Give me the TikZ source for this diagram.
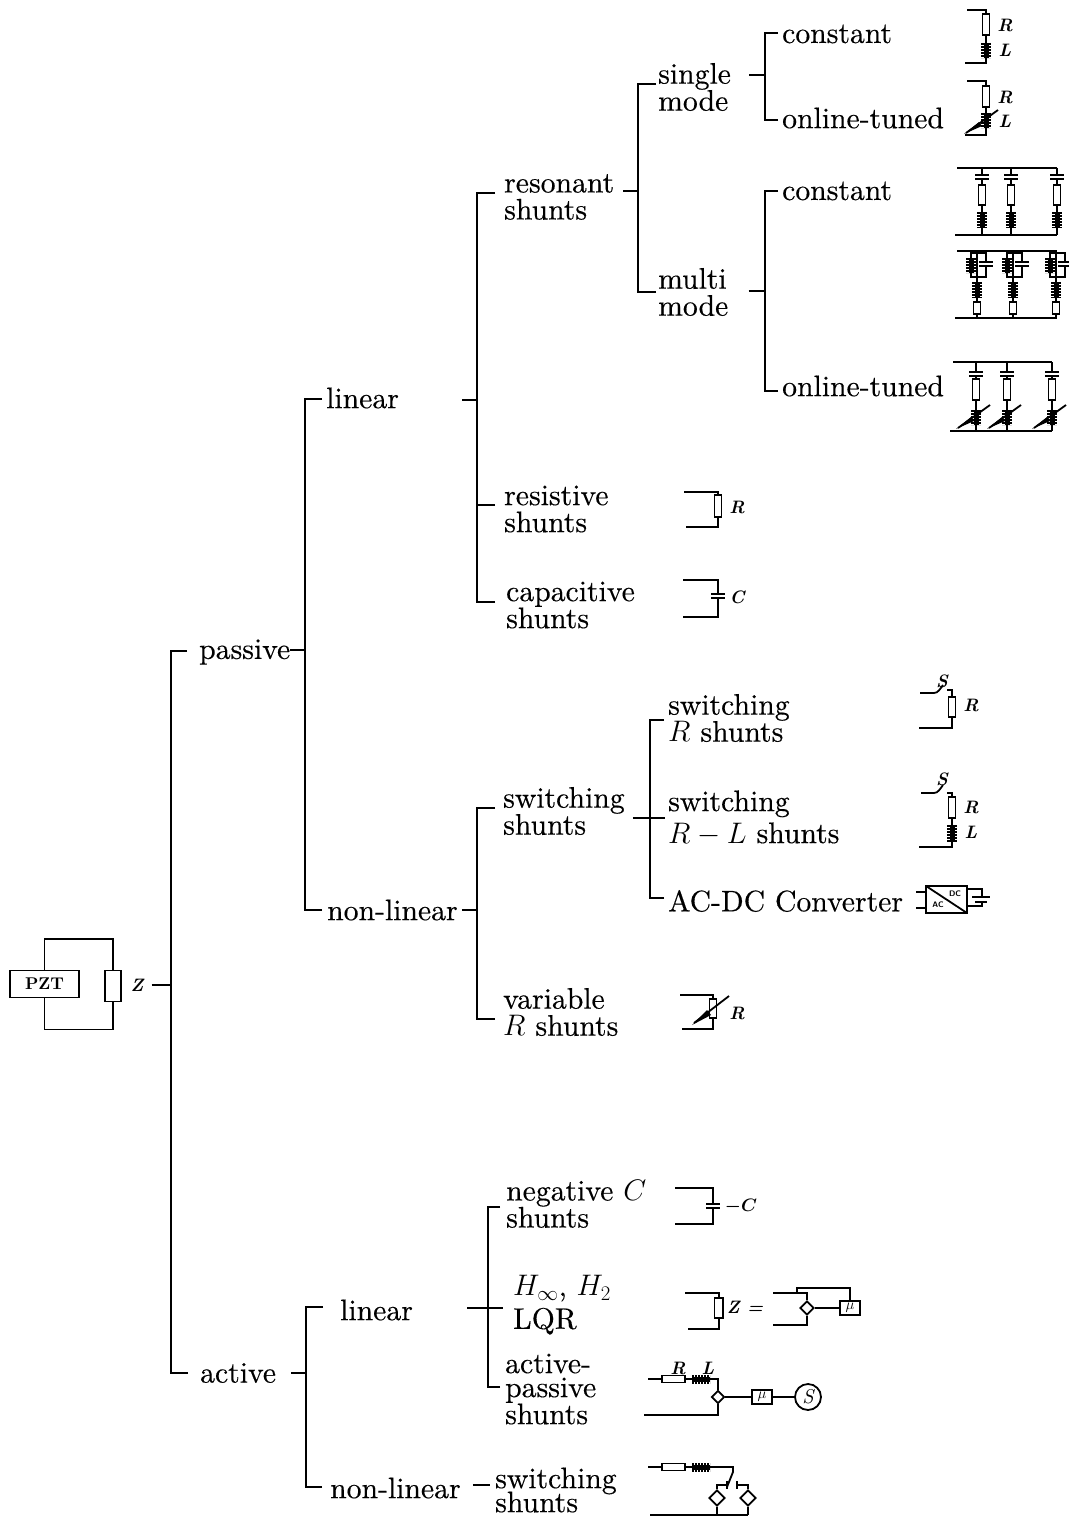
\documentclass[tikz,border=0pt]{standalone}
\usepackage{fix-cm}
\usepackage{amsmath}
\usepackage{fontspec}
\setmainfont{lmroman10-regular.otf}[BoldFont=lmroman10-bold.otf,ItalicFont=lmroman10-italic.otf,BoldItalicFont=lmroman10-bolditalic.otf]
\newfontfamily\treefont{lmroman10-regular.otf}[FakeBold=0.35]
\usetikzlibrary{shapes.geometric}

\tikzset{
  lbl/.style={font=\fontsize{29.7}{27}\selectfont\treefont,align=left,anchor=west,inner sep=0pt},
  sym/.style={font=\fontsize{18}{18}\selectfont\bfseries\itshape,inner sep=0pt},
  brk/.style={line width=2pt},
  wire/.style={line width=1.8pt},
}

\begin{document}
\begin{tikzpicture}[x=1pt,y=-1pt]
  \def\brtick#1#2#3#4{\draw[brk] ([shift={(#2,#3)}]#1) -| (#4);}
  \def\vres#1#2#3{\draw[wire,fill=white] (#1-3.5,#2) rectangle (#1+3.5,#3);}
  \def\hres#1#2#3{\draw[wire,fill=white] (#1,#3-3.5) rectangle (#2,#3+3.5);}
  \def\vind#1#2#3{\draw[line width=5pt] (#1,#2) -- (#1,#3);
    \draw[line width=10pt,dash pattern=on 2.2pt off 0.8pt] (#1,#2) -- (#1,#3);}
  \def\hind#1#2#3{\draw[line width=5pt] (#1,#3) -- (#2,#3);
    \draw[line width=9pt,dash pattern=on 2.2pt off 0.8pt] (#1,#3) -- (#2,#3);}
  \def\vcap#1#2{\fill[white] (#1-7,#2-2) rectangle (#1+7,#2+2);
    \draw[wire] (#1-7,#2-2) -- (#1+7,#2-2) (#1-7,#2+2) -- (#1+7,#2+2);}
  \def\tune#1#2{\draw[wire] (#1+14,#2-11) -- (#1-18,#2+12);
    \fill (#1-20,#2+13) -- (#1-5,#2+1) -- (#1-2,#2+5) -- cycle;}
  \useasboundingbox (0,0) rectangle (1068,1517);

% labels of the tree
\node[lbl] (passive) at (199,652) {passive};
\node[lbl] (active) at (200,1373) {active};
\node[lbl] (plin) at (326,398) {linear};
\node[lbl] (pnon) at (327,910) {non-linear};
\node[lbl] (alin) at (340,1310) {linear};
\node[lbl] (anon) at (330,1488) {non-linear};
\node[lbl] (reson) at (504,197) {resonant\\shunts};
\node[lbl] (resist) at (504,509) {resistive\\shunts};
\node[lbl] (capac) at (506,605) {capacitive\\shunts};
\node[lbl] (swit) at (503,811) {switching\\shunts};
\node[lbl] (varr) at (503,1012) {variable\\$R$ shunts};
\node[lbl] (single) at (658,87) {single\\mode};
\node[lbl] (multi) at (658,292) {multi\\mode};
\node[lbl] (constA) at (782,34) {constant};
\node[lbl] (onlineA) at (782,118) {online-tuned};
\node[lbl] (constB) at (782,191) {constant};
\node[lbl] (onlineB) at (782,386) {online-tuned};
\node[lbl] (swr) at (668,718) {switching\\$R$ shunts};
\node[lbl] (swrl) at (668,818) {switching\\[5pt]$R-L$ shunts};
\node[lbl] (acdc) at (668,901) {AC-DC Converter};
\node[lbl] (negc) at (506,1204) {negative $C$\\shunts};
\node[lbl] (hinf) at (513,1305) {$H_\infty$, $H_2$\\[6pt]LQR};
\node[lbl] (actpas) at (505,1389) {active-\\[-3pt]passive\\shunts};
\node[lbl] (swact) at (495,1490) {switching\\[-3pt]shunts};

% PZT with its shunt
\node[draw,line width=1.8pt,minimum width=69pt,minimum height=27pt,inner sep=0pt,
      font=\fontsize{17}{17}\selectfont\bfseries] (pzt) at (44.5,984) {PZT};
\node[draw,line width=1.8pt,minimum width=16pt,minimum height=31pt,inner sep=0pt] (zres) at (113,986) {};
\node[sym] (zlab) at (137,985) {Z};
\draw[wire] (pzt.north) -- ++(0,-31) -| (zres.north);
\draw[wire] (pzt.south) -- ++(0,31) -| (zres.south);

% brackets
\coordinate (jroot) at (171,985);
\coordinate (jpas) at (305,650);
\coordinate (jact) at (306,1373);
\coordinate (jlin) at (477,400);
\coordinate (jnon) at (477,910);
\coordinate (jres) at (638,191);
\coordinate (jsin) at (765,75);
\coordinate (jmul) at (765,291);
\coordinate (jsw) at (650,818);
\coordinate (jali) at (488,1308);

\draw[brk] ([xshift=8pt]zlab.east) -- (jroot);
\brtick{passive.west}{-12}{-1}{jroot}
\brtick{active.west}{-12}{0}{jroot}

\draw[brk] ([shift={(0,-2)}]passive.east) -- (jpas);
\brtick{plin.west}{-4}{1}{jpas}
\brtick{pnon.west}{-5}{0}{jpas}

\draw[brk] ([xshift=15pt]active.east) -- (jact);
\brtick{alin.west}{-17}{-3}{jact}
\brtick{anon.west}{-8}{-1}{jact}

\draw[brk] ([shift={(63,2)}]plin.east) -- (jlin);
\brtick{reson.west}{-9}{-4}{jlin}
\brtick{resist.west}{-9}{-4}{jlin}
\brtick{capac.west}{-11}{-3}{jlin}

\draw[brk] ([xshift=4pt]pnon.east) -- (jnon);
\brtick{swit.west}{-8}{-3}{jnon}
\brtick{varr.west}{-8}{7}{jnon}

\draw[brk] ([shift={(9,-6)}]reson.east) -- (jres);
\brtick{single.west}{-2}{-3}{jres}
\brtick{multi.west}{-2}{0}{jres}

\draw[brk] ([shift={(18,-12)}]single.east) -- (jsin);
\brtick{constA.west}{-4}{-1}{jsin}
\brtick{onlineA.west}{-4}{2}{jsin}

\draw[brk] ([shift={(20,-1)}]multi.east) -- (jmul);
\brtick{constB.west}{-4}{0}{jmul}
\brtick{onlineB.west}{-4}{5}{jmul}

\draw[brk] ([shift={(8,7)}]swit.east) -- ([xshift=-3pt]swrl.west);
\brtick{swr.west}{-4}{2}{jsw}
\brtick{acdc.west}{-4}{-3}{jsw}

\draw[brk] ([shift={(54,-2)}]alin.east) -- ([shift={(-10,3)}]hinf.west);
\brtick{negc.west}{-6}{3}{jali}
\brtick{actpas.west}{-5}{-2}{jali}

\draw[brk] ([shift={(12,-3)}]anon.east) -- ([shift={(-5,-5)}]swact.west);

% single mode, constant
\draw[wire] (967,10) -- (986,10) -- (986,63) -- (965,63);
\vres{986}{14}{35}
\vind{986}{43}{58}
\node[sym] (rA) at (1005,25) {R};
\node[sym] (lA) at (1005,50) {L};

% single mode, online tuned
\draw[wire] (967,81) -- (986,81) -- (986,135) -- (965,135);
\vres{986}{86}{107}
\vind{986}{113}{128}
\tune{984}{121}
\node[sym] (rB) at (1005,97) {R};
\node[sym] (lB) at (1005,121) {L};

% multi mode, constant
\draw[wire] (957,168) -- (1057,168);
\draw[wire] (955,235) -- (1057,235);
\foreach \bx in {982,1011,1057}{
    \draw[wire] (\bx,168) -- (\bx,235);
    \vcap{\bx}{177}
    \vres{\bx}{185}{205}
    \vind{\bx}{212}{228}
}

% multi mode, parallel branches
\draw[wire] (957,251) -- (1057,251);
\draw[wire] (955,318) -- (1057,318);
\foreach \bx in {977,1013,1056}{
    \draw[wire] (\bx,251) -- (\bx,318);
    \draw[wire] (\bx-6,253) rectangle (\bx+9,277);
    \vind{\bx-6}{258}{273}
    \vcap{\bx+9}{264}
    \vind{\bx}{282}{298}
    \vres{\bx}{302}{314}
}

% multi mode, online tuned
\draw[wire] (953,362) -- (1052,362);
\draw[wire] (950,431) -- (1052,431);
\foreach \bx in {976,1007,1052}{
    \draw[wire] (\bx,362) -- (\bx,431);
    \vcap{\bx}{374}
    \vres{\bx}{379}{400}
    \vind{\bx}{410}{425}
    \tune{\bx}{416}
}

% resistive
\draw[wire] (684,492) -- (718,492) -- (718,527) -- (686,527);
\vres{718}{495}{517}
\node[sym] (rC) at (737,507) {R};

% capacitive
\draw[wire] (683,580) -- (718,580) -- (718,617) -- (683,617);
\vcap{718}{596}
\node[sym] (cA) at (737,597) {C};

% switching R
\draw[wire] (920,693) -- (934,693) .. controls (938,693) and (940,689) .. (943,685);
\draw[wire] (947,690) -- (952,690) -- (952,728) -- (919,728);
\vres{952}{697}{717}
\node[sym] (sA) at (942,681) {S};
\node[sym] (rD) at (971,705) {R};

% switching R-L
\draw[wire] (921,793) -- (934,793) .. controls (938,793) and (940,789) .. (943,785);
\draw[wire] (947,793) -- (952,793) -- (952,847) -- (919,847);
\vres{952}{797}{818}
\vind{952}{825}{842}
\node[sym] (sB) at (942,779) {S};
\node[sym] (rE) at (971,807) {R};
\node[sym] (lE) at (971,832) {L};

% converter
\draw[wire] (926,886) rectangle (967,913);
\draw[wire] (926,886) -- (967,913);
\draw[wire] (916,892) -- (926,892) (916,908) -- (926,908);
\draw[wire] (967,889) -- (982,889) -- (982,897) (972,897) -- (990,897);
\draw[wire] (975,902) -- (987,902) (982,902) -- (982,906) -- (967,906);
\node[font=\fontsize{8}{8}\selectfont\bfseries\sffamily,inner sep=0pt] (dc) at (955,894) {DC};
\node[font=\fontsize{8}{8}\selectfont\bfseries\sffamily,inner sep=0pt] (ac) at (938,905) {AC};

% variable R
\draw[wire] (680,995) -- (713,995) -- (713,1029) -- (682,1029);
\vres{713}{999}{1018}
\draw[wire] (729,996) -- (694,1023);
\fill (692,1025) -- (707,1010) -- (711,1015) -- cycle;
\node[sym] (rF) at (737,1013) {R};

% negative C
\draw[wire] (675,1188) -- (713,1188) -- (713,1224) -- (675,1224);
\vcap{713}{1206}
\node[sym] (cB) at (741,1207) {$\boldsymbol{-C}$};

% H infinity, Z
\draw[wire] (685,1293) -- (719,1293) -- (719,1329) -- (688,1329);
\draw[wire,fill=white] (714.5,1298) rectangle (723,1318);
\node[sym] (zB) at (745,1307) {Z =};
\node[draw,wire,minimum width=20pt,minimum height=14pt,inner sep=0pt,font=\fontsize{15}{15}\selectfont] (muA) at (850,1308) {$\mu$};
\node[draw,wire,diamond,aspect=1,minimum size=14pt,inner sep=0pt] (dA) at (807,1308) {};
\draw[wire] (773,1293) -- (807,1293) -- (dA.north);
\draw[wire] (773,1325) -- (807,1325) -- (dA.south);
\draw[wire] (797,1293) -- (797,1288) -| (muA.north);
\draw[wire] (muA.west) -- (dA.east);

% active-passive
\node[draw,wire,diamond,aspect=1,minimum size=13pt,inner sep=0pt] (dB) at (718,1397) {};
\node[draw,wire,minimum width=20pt,minimum height=14pt,inner sep=0pt,font=\fontsize{15}{15}\selectfont] (muB) at (762,1397) {$\mu$};
\node[draw,wire,circle,minimum size=26pt,inner sep=0pt,font=\fontsize{20}{20}\selectfont\itshape] (src) at (808,1397) {S};
\draw[wire] (648,1379) -- (718,1379) -- (dB.north);
\draw[wire] (644,1415) -- (718,1415) -- (dB.south);
\hres{662}{685}{1379}
\hind{692}{710}{1379}
\draw[wire] (dB.east) -- (muB.west);
\draw[wire] (muB.east) -- (src.west);
\node[sym] (rG) at (678,1368) {R};
\node[sym] (lG) at (708,1368) {L};

% active switching
\node[draw,wire,diamond,aspect=1,minimum size=16pt,inner sep=0pt] (dC) at (717,1498) {};
\node[draw,wire,diamond,aspect=1,minimum size=16pt,inner sep=0pt] (dD) at (748,1498) {};
\draw[wire] (648,1467) -- (733,1467) -- (733,1472) -- (727,1487);
\hres{662}{685}{1467}
\hind{692}{710}{1467}
\draw[wire] (dC.north) |- (727,1485) (727,1481) -- (727,1489);
\draw[wire] (dD.north) |- (737,1485) (737,1481) -- (737,1489);
\draw[wire] (650,1515) -- (748,1515);
\draw[wire] (dC.south) -- (717,1515);
\draw[wire] (dD.south) -- (748,1515);
\end{tikzpicture}
\end{document}
